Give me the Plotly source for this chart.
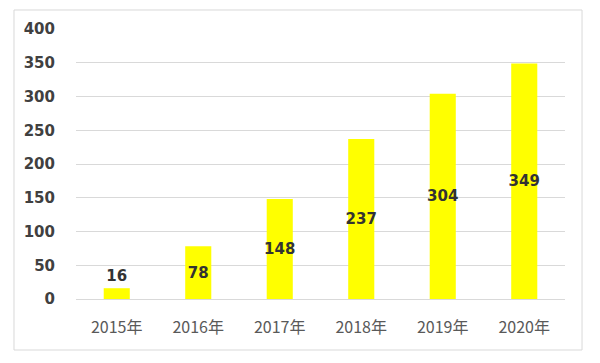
import plotly.graph_objects as go

categories = ["2015年", "2016年", "2017年", "2018年", "2019年", "2020年"]
values = [16, 78, 148, 237, 304, 349]
y_ticks = [0, 50, 100, 150, 200, 250, 300, 350, 400]

positions = ["outside" if v < 30 else "inside" for v in values]
label_font = dict(family="DejaVu Sans", size=15, color="#333333", weight="bold")

fig = go.Figure(
    go.Bar(
        x=categories,
        y=values,
        marker=dict(color="#FFFF00", line=dict(width=0)),
        width=0.32,
        text=[str(v) for v in values],
        textposition=positions,
        insidetextanchor="middle",
        textangle=0,
        cliponaxis=False,
        textfont=label_font,
        outsidetextfont=label_font,
        insidetextfont=label_font,
    )
)

fig.update_layout(
    width=600,
    height=363,
    margin=dict(l=68, r=43, t=21, b=72),
    paper_bgcolor="white",
    plot_bgcolor="white",
    showlegend=False,
    uniformtext=dict(minsize=15, mode="show"),
    shapes=[
        dict(
            type="rect", xref="paper", yref="paper",
            x0=-0.1268, x1=1.0348, y0=-0.1889, y1=1.0704,
            line=dict(color="#d9d9d9", width=1), fillcolor="rgba(0,0,0,0)",
            layer="below",
        )
    ],
)

fig.update_yaxes(
    range=[0, 400],
    tickvals=y_ticks,
    showgrid=True,
    gridcolor="#d9d9d9",
    gridwidth=1,
    zeroline=False,
    showline=False,
    ticks="",
    ticklabelstandoff=20,
    tickfont=dict(family="DejaVu Sans", size=15, color="#404040", weight="bold"),
)
fig.update_xaxes(
    showline=True,
    linecolor="#d9d9d9",
    linewidth=1,
    ticks="",
    ticklabelstandoff=14,
    tickfont=dict(family="Noto Sans CJK JP", size=16, color="#595959"),
)

fig.write_html("out.html")
